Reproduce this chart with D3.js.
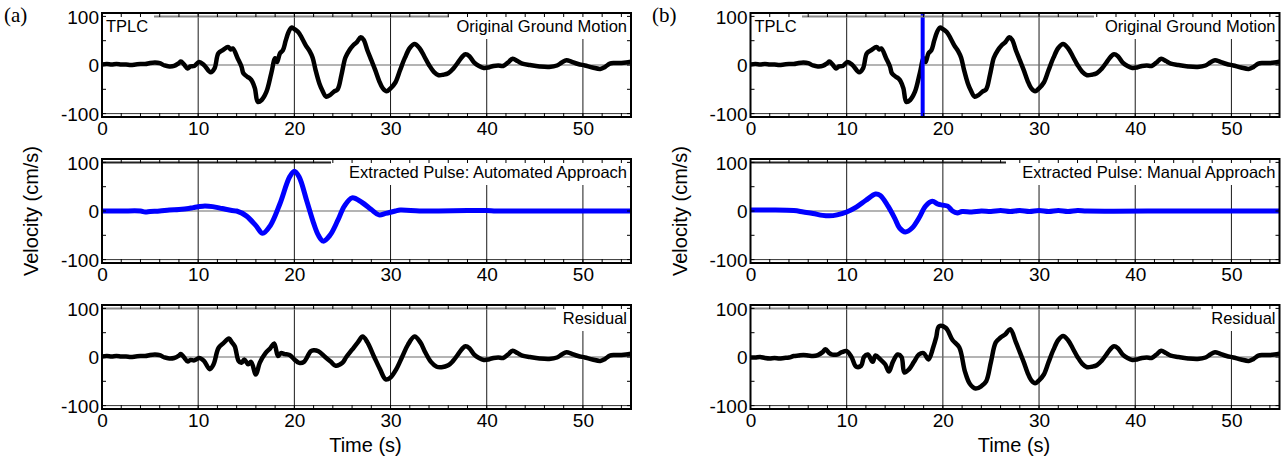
<!DOCTYPE html>
<html><head><meta charset="utf-8">
<script src="https://cdn.jsdelivr.net/npm/d3@7"></script>
<style>body{margin:0;background:#fff}svg{display:block}</style>
</head><body>
<svg id="chart" width="1284" height="464"></svg>
<script>
// ---- data ----
const timeGM = [0,0.5,1,1.5,2,2.5,3,3.5,4,4.5,5,5.5,6,6.5,7,7.5,8,8.2,8.5,8.9,9.2,9.6,10.1,10.6,11.3,11.7,12.1,12.6,13.1,13.4,13.6,14.1,14.5,14.7,15.1,15.4,15.6,15.9,16.2,16.6,17.1,17.6,18.0,18.2,18.5,18.8,19.1,19.4,19.7,20.0,20.4,20.8,21.2,21.6,21.9,22.2,22.6,22.9,23.3,23.7,24.1,24.5,24.9,25.3,25.7,26.1,26.5,26.9,27.2,27.6,28.0,28.4,28.8,29.2,29.6,30.0,30.5,31.0,31.5,32.0,32.5,33.0,33.5,34.0,34.5,35.0,35.5,36.0,36.5,37.0,37.5,37.8,38.2,38.7,39.2,39.7,40.2,40.7,41.2,41.7,42.2,42.7,43.2,43.7,44.5,45.5,46.5,47.3,47.8,48.3,48.8,49.5,50.2,51,51.8,52.3,52.8,53.3,54,54.5,55];
const velGM = [1,2,1,2,1,1,0,1,2,2,4,5,4,-1,-3,-2,4,7,2,-7,-3,-2,6,0,-15,-7,24,31,37,32,34,14,-3,-17,-24,-28,-33,-48,-76,-72,-55,-17,14,6,24,30,50,68,77,74,68,55,40,28,15,-10,-38,-52,-65,-62,-55,-50,-20,15,30,40,47,57,52,30,10,-10,-32,-48,-54,-48,-36,-10,15,35,43,35,18,0,-14,-21,-20,-17,-8,5,18,22,18,5,-2,-6,-5,-2,-1,-2,5,13,8,3,0,-3,-4,-1,5,10,7,2,-1,-5,-8,-4,3,4,4,5,7];

const timePulseA = [0,2,4,4.5,5,6,7,8,9,9.5,10.5,11.5,12.5,13.5,14,15,16,16.7,17.5,18.5,19.5,20,20.5,21.3,22,22.5,23,23.7,24.5,25.2,26,27,28,28.8,29.5,30.5,31,33,35,38,40,41,45,55];
const velPulseA = [0,0,0,-2,-1,0,2,3,5,7,10,9,5,1,0,-10,-30,-46,-30,15,70,82,70,20,-25,-50,-62,-50,-20,10,27,18,3,-8,-5,0,2,0,0,1,1,0,0,0];

const timeResA = [0,0.5,1,1.5,2,2.5,3,3.5,4,4.5,5,5.5,6,6.5,7,7.5,8,8.2,8.5,8.9,9.2,9.6,10.1,10.6,11.2,11.6,12.1,12.6,13.2,13.5,13.8,14.2,14.5,14.8,15.2,15.5,16.0,16.4,17.0,17.5,17.9,18.3,18.6,19.0,19.5,20.0,20.5,21.0,21.7,22.0,22.5,23.2,23.8,24.3,25.0,25.4,26.0,26.6,27.1,27.6,28.3,28.9,29.5,30.0,30.6,31.2,31.8,32.5,33.1,33.6,34.2,34.8,35.3,36.0,36.5,37.0,37.5,37.8,38.2,38.7,39.2,39.7,40.2,40.7,41.2,41.7,42.2,42.7,43.2,43.7,44.5,45.5,46.5,47.3,47.8,48.3,48.8,49.5,50.2,51,51.8,52.3,52.8,53.3,54,54.5,55];
const velResA = [1,2,1,2,1,1,0,1,2,2,4,5,4,-1,-3,-2,3,6,0,-9,-6,-7,-2,-8,-25,-15,18,28,38,30,22,-8,-12,-5,-15,-10,-36,-12,8,18,28,2,8,6,4,-5,-12,-10,12,14,12,0,-10,-18,-12,0,15,30,42,30,0,-25,-46,-42,-25,0,25,42,30,10,-10,-20,-21,-17,-8,5,18,22,18,5,-2,-6,-5,-2,-1,-2,5,13,8,3,0,-3,-4,-1,5,10,7,2,-1,-5,-8,-4,3,4,4,5,7];

const timePulseB = [0,2,4.5,5.5,6.5,7.5,8.2,9,10,11,12,13,13.5,14.3,15,15.5,16.1,16.8,17.5,18.2,18.9,19.5,20,20.5,21,21.5,22,23,24,25,26,27,28,29,30,31,32,33,34,35,45,55];
const velPulseB = [2,2,1,-2,-5,-9,-10,-8,-2,8,22,35,32,10,-15,-35,-43,-35,-15,10,20,14,12,10,0,-4,-1,-2,0,-1,1,-1,1,-1,1,-1,1,-1,1,0,0,0];

const timeResB = [0,0.5,1,1.5,2,2.5,3,3.5,4,4.5,5,5.5,6,6.5,7,7.5,7.8,8.2,8.5,9,9.5,10,10.5,11,11.5,11.8,12.2,12.7,13,13.5,14,14.4,14.8,15.3,15.7,16,16.5,17,17.5,18,18.5,19,19.3,19.6,20.3,21,21.7,22.3,22.8,23.4,24,24.5,25,25.5,26,26.5,27,27.6,28,28.4,28.8,29.2,29.6,30.0,30.5,31.0,31.5,32.0,32.5,33.0,33.5,34.0,34.5,35.0,35.5,36.0,36.5,37.0,37.5,37.8,38.2,38.7,39.2,39.7,40.2,40.7,41.2,41.7,42.2,42.7,43.2,43.7,44.5,45.5,46.5,47.3,47.8,48.3,48.8,49.5,50.2,51,51.8,52.3,52.8,53.3,54,54.5,55];
const velResB = [-1,-1,0,-2,-3,-2,-3,-2,-1,2,3,4,3,2,4,10,16,8,5,5,10,12,0,-20,-18,0,5,-10,3,-5,-15,-30,-10,5,0,-32,-25,-10,5,8,-5,20,40,63,60,35,20,-30,-55,-65,-60,-50,-10,30,40,47,57,30,10,-10,-32,-48,-54,-48,-36,-10,15,35,43,35,18,0,-14,-21,-20,-17,-8,5,18,22,18,5,-2,-6,-5,-2,-1,-2,5,13,8,3,0,-3,-4,-1,5,10,7,2,-1,-5,-8,-4,3,4,4,5,7];

const markerTimeB = [17.9];
const xTickValues = [0,10,20,30,40,50];
const yTickValues = [-100,0,100];
const xMinorValues = d3.range(0,56,2);
const yMinorValues = [-50,50];
const panelLetters = ["(a)","(b)"];
const rowLabels = [["TPLC","Original Ground Motion"],["","Extracted Pulse: Automated Approach"],["","Residual"]];
const rowLabelsB = [["TPLC","Original Ground Motion"],["","Extracted Pulse: Manual Approach"],["","Residual"]];

// ---- layout ----
const svg = d3.select("#chart");
const colLeft = [102, 750.5], W = 529;
const rowTop = [13, 159, 305], H = 104;
const FONT = "'Liberation Sans', Arial, sans-serif";

const panels = [
  {c:0,r:0,t:timeGM,v:velGM,color:"#000",labels:rowLabels[0],topLine:"#8a8a8a",lineStart:154,lineEnd:449},
  {c:0,r:1,t:timePulseA,v:velPulseA,color:"#0000ff",labels:rowLabels[1],topLine:"#222",lineStart:102,lineEnd:331},
  {c:0,r:2,t:timeResA,v:velResA,color:"#000",labels:rowLabels[2],topLine:"#8a8a8a",lineStart:102,lineEnd:556},
  {c:1,r:0,t:timeGM,v:velGM,color:"#000",labels:rowLabelsB[0],topLine:"#8a8a8a",lineStart:802,lineEnd:1094,marker:true},
  {c:1,r:1,t:timePulseB,v:velPulseB,color:"#0000ff",labels:rowLabelsB[1],topLine:"#222",lineStart:750,lineEnd:1006},
  {c:1,r:2,t:timeResB,v:velResB,color:"#000",labels:rowLabelsB[2],topLine:"#8a8a8a",lineStart:750,lineEnd:1201}
];

panels.forEach((p,i)=>{
  const x0 = colLeft[p.c], y0 = rowTop[p.r];
  const x = d3.scaleLinear().domain([0,55]).range([x0, x0+W]);
  const y = d3.scaleLinear().domain([-107,107]).range([y0+H, y0]);
  const g = svg.append("g");
  const cid = "clip"+i;
  svg.append("clipPath").attr("id",cid).append("rect").attr("x",x0).attr("y",y0).attr("width",W).attr("height",H);

  // grid
  g.selectAll(".vg").data(xTickValues.slice(1)).join("line")
    .attr("x1",d=>x(d)).attr("x2",d=>x(d)).attr("y1",y0).attr("y2",y0+H)
    .attr("stroke","#1a1a1a").attr("stroke-width",1);
  g.append("line").attr("x1",x0).attr("x2",x0+W).attr("y1",y(0)).attr("y2",y(0))
    .attr("stroke","#6a6a6a").attr("stroke-width",1.2);
  g.append("line").attr("x1",x0).attr("x2",x0+W).attr("y1",y(-100)).attr("y2",y(-100))
    .attr("stroke","#333").attr("stroke-width",1);

  // data line
  const line = d3.line().x((d,k)=>x(p.t[k])).y(d=>y(d)).curve(d3.curveCatmullRom.alpha(0.5));
  g.append("path").attr("clip-path",`url(#${cid})`).attr("d",line(p.v))
    .attr("fill","none").attr("stroke",p.color).attr("stroke-width",p.color==="#000"?4.5:5)
    .attr("stroke-linejoin","round").attr("stroke-linecap","round");

  if(p.marker){
    g.selectAll(".mk").data(markerTimeB).join("line")
      .attr("x1",d=>x(d)).attr("x2",d=>x(d)).attr("y1",y0).attr("y2",y0+H)
      .attr("stroke","#0000ff").attr("stroke-width",4);
  }

  // text boxes (white background covering grid)
  const fs = 16.5;
  const lt = p.labels[0], rt = p.labels[1];
  if(lt){
    g.append("rect").attr("x",x0+1).attr("y",y0+1).attr("width",p.lineStart-x0-2).attr("height",24).attr("fill","#fff");
    g.append("text").attr("x",x0+4).attr("y",y0+19).attr("font-family",FONT).attr("font-size",fs).text(lt);
  }
  g.append("rect").attr("x",p.lineEnd+1).attr("y",y0+1).attr("width",x0+W-p.lineEnd-2).attr("height",25).attr("fill","#fff");
  // y = 100 grid line, partly hidden by the text boxes
  g.append("line").attr("x1",p.lineStart).attr("x2",p.lineEnd).attr("y1",y(100)).attr("y2",y(100))
    .attr("stroke",p.topLine).attr("stroke-width",2);
  g.append("text").attr("x",x0+W-4).attr("y",y0+19).attr("text-anchor","end")
    .attr("font-family",FONT).attr("font-size",fs).text(rt);

  // minor ticks
  xMinorValues.forEach(d=>{
    g.append("line").attr("x1",x(d)).attr("x2",x(d)).attr("y1",y0).attr("y2",y0+4).attr("stroke","#000");
    g.append("line").attr("x1",x(d)).attr("x2",x(d)).attr("y1",y0+H).attr("y2",y0+H-4).attr("stroke","#000");
  });
  yMinorValues.concat(yTickValues).forEach(d=>{
    g.append("line").attr("x1",x0).attr("x2",x0+4).attr("y1",y(d)).attr("y2",y(d)).attr("stroke","#000");
    g.append("line").attr("x1",x0+W).attr("x2",x0+W-4).attr("y1",y(d)).attr("y2",y(d)).attr("stroke","#000");
  });

  // box
  g.append("rect").attr("x",x0).attr("y",y0).attr("width",W).attr("height",H)
    .attr("fill","none").attr("stroke","#000").attr("stroke-width",2);

  // axes labels via d3 axis
  const fmt = d=>String(d);
  const xa = svg.append("g").attr("transform",`translate(0,${y0+H})`)
    .call(d3.axisBottom(x).tickValues(xTickValues).tickFormat(fmt).tickSize(0).tickPadding(5));
  xa.select(".domain").remove();
  xa.selectAll("text").attr("font-family",FONT).attr("font-size",19).attr("fill","#000");
  const ya = svg.append("g").attr("transform",`translate(${x0},0)`)
    .call(d3.axisLeft(y).tickValues(yTickValues).tickFormat(fmt).tickSize(0).tickPadding(3));
  ya.select(".domain").remove();
  ya.selectAll("text").attr("font-family",FONT).attr("font-size",19).attr("fill","#000").attr("dy","0.36em");
});

// axis titles and panel letters
[0,1].forEach(c=>{
  const x0 = colLeft[c];
  svg.append("text").attr("transform",`translate(${x0-64},${211}) rotate(-90)`)
    .attr("text-anchor","middle").attr("font-family",FONT).attr("font-size",20).text("Velocity (cm/s)");
  svg.append("text").attr("x",x0+W/2-1).attr("y",452).attr("text-anchor","middle")
    .attr("font-family",FONT).attr("font-size",20).text("Time (s)");
  svg.append("text").attr("x",c===0?4:652).attr("y",22).attr("font-family","'Liberation Serif','Times New Roman',serif")
    .attr("font-size",21).text(panelLetters[c]);
});
</script>
</body></html>
